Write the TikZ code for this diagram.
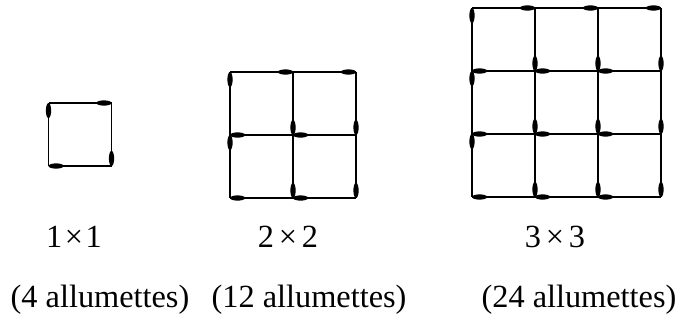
\documentclass[tikz,border=0pt]{standalone}
\usepackage{fontspec}
\setmainfont{Liberation Serif}
\usetikzlibrary{positioning}

% une allumette horizontale / verticale avec sa tete
\tikzset{
  baton/.style={line width=0.75pt},
  tete/.style={fill=black},
  legende/.style={anchor=base, inner sep=0pt, font=\fontsize{14.6}{17}\selectfont},
}

% #1 = taille n, #2 = coin haut gauche
\newcommand{\grille}[2]{%
  \begin{scope}[shift={#2}]
    % allumettes horizontales
    \foreach \j in {0,...,#1} {
      \foreach \i [evaluate=\i as \ii using int(\i+1)] in {1,...,#1} {
        \draw[baton] (\i-1,-\j) -- (\ii-1,-\j);
        \ifnum\j=0
          \fill[tete] (\ii-1-0.12,-\j) ellipse [x radius=0.12, y radius=0.042];
        \else
          \fill[tete] (\i-1+0.12,-\j) ellipse [x radius=0.12, y radius=0.042];
        \fi
      }
    }
    % allumettes verticales
    \foreach \i in {0,...,#1} {
      \foreach \j [evaluate=\j as \jj using int(\j+1)] in {1,...,#1} {
        \draw[baton] (\i,-\j+1) -- (\i,-\jj+1);
        \ifnum\i=0
          \fill[tete] (\i,-\j+1-0.12) ellipse [x radius=0.042, y radius=0.12];
        \else
          \fill[tete] (\i,-\jj+1+0.12) ellipse [x radius=0.042, y radius=0.12];
        \fi
      }
    }
  \end{scope}}

\begin{document}
\begin{tikzpicture}
  \useasboundingbox (0,0) rectangle (10.762,5.111);

  % les trois carres
  \grille{1}{(0.770,3.476)}
  \grille{2}{(3.651,3.968)}
  \grille{3}{(7.492,4.984)}

  % legendes
  \node[legende] (t1) at (1.175,1.175) {1\kern0.08em×\kern0.08em1};
  \node[legende] (t2) at (4.571,1.175) {2\kern0.15em×\kern0.15em2};
  \node[legende] (t3) at (8.810,1.175) {3\kern0.15em×\kern0.15em3};

  \node[legende] (n1) at (1.587,0.238) {(4 allumettes)};
  \node[legende] (n2) at (4.905,0.238) {(12 allumettes)};
  \node[legende] (n3) at (9.190,0.238) {(24 allumettes)};
\end{tikzpicture}
\end{document}
